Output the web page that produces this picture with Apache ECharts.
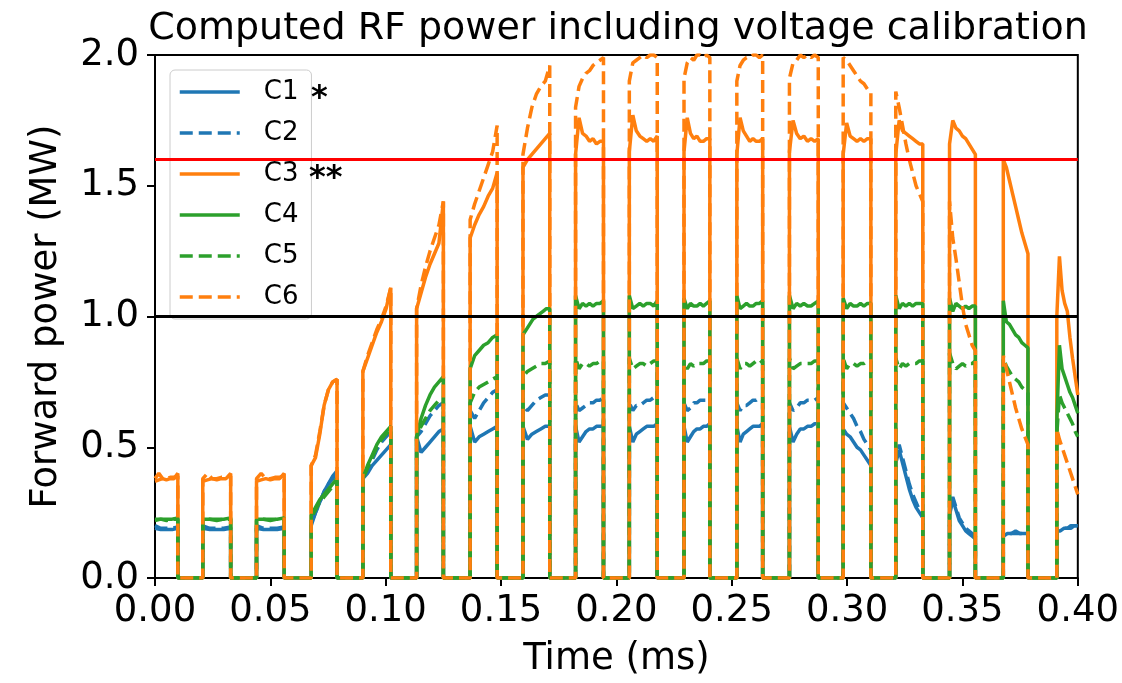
<!DOCTYPE html>
<html>
<head>
<meta charset="utf-8">
<title>Computed RF power including voltage calibration</title>
<script src="https://cdn.jsdelivr.net/npm/echarts@6/dist/echarts.min.js"></script>
<style>
  html, body { margin: 0; padding: 0; background: #fff; }
  #chart { width: 1122px; height: 683px; }
</style>
</head>
<body>
<div id="chart"></div>
<script>
// pulse edges (ms)
const pulseStart = [0, 0.0207, 0.0440, 0.0677, 0.0901, 0.1134, 0.1366, 0.1595, 0.1823,
  0.2056, 0.2293, 0.2522, 0.2750, 0.2983, 0.3211, 0.3444, 0.3677, 0.3909]
const pulseEnd = [0.0099, 0.0328, 0.0560, 0.0789, 0.1022, 0.1250, 0.1483, 0.1711, 0.1944,
  0.2177, 0.2405, 0.2634, 0.2875, 0.3103, 0.3328, 0.3556, 0.3784, 0.4000]

// power (MW) sampled across each pulse, one list per pulse
const c1Levels = [
  [0.19, 0.185, 0.185, 0.185, 0.19],
  [0.19, 0.185, 0.185, 0.185, 0.19],
  [0.19, 0.185, 0.185, 0.185, 0.19],
  [0.20, 0.25, 0.29, 0.33, 0.36, 0.39, 0.41],
  [0.38, 0.40, 0.43, 0.45, 0.47, 0.49, 0.51],
  [0.54, 0.48, 0.50, 0.52, 0.54, 0.56, 0.57],
  [0.58, 0.52, 0.54, 0.55, 0.56, 0.57, 0.58],
  [0.58, 0.53, 0.55, 0.56, 0.57, 0.58, 0.58],
  [0.58, 0.52, 0.54, 0.56, 0.57, 0.57, 0.58, 0.58, 0.58],
  [0.58, 0.52, 0.55, 0.56, 0.57, 0.58, 0.58, 0.58, 0.59],
  [0.58, 0.52, 0.54, 0.56, 0.57, 0.57, 0.58, 0.58, 0.59],
  [0.58, 0.52, 0.55, 0.56, 0.57, 0.58, 0.58, 0.58, 0.59],
  [0.58, 0.52, 0.55, 0.57, 0.57, 0.58, 0.58, 0.59, 0.59],
  [0.57, 0.55, 0.54, 0.52, 0.50, 0.49, 0.47, 0.45, 0.43],
  [0.44, 0.49, 0.44, 0.39, 0.34, 0.30, 0.27, 0.25, 0.23],
  [0.24, 0.30, 0.26, 0.22, 0.20, 0.18, 0.17, 0.16, 0.15],
  [0.16, 0.17, 0.17, 0.17, 0.17, 0.17, 0.17],
  [0.18, 0.18, 0.19, 0.19, 0.19, 0.20, 0.20]
]
const c2Levels = [
  [0.20, 0.19, 0.19, 0.19, 0.195],
  [0.20, 0.19, 0.19, 0.19, 0.195],
  [0.20, 0.19, 0.19, 0.19, 0.195],
  [0.21, 0.25, 0.29, 0.33, 0.36, 0.38, 0.40],
  [0.38, 0.41, 0.45, 0.49, 0.52, 0.54, 0.56],
  [0.54, 0.56, 0.59, 0.62, 0.64, 0.66, 0.67],
  [0.64, 0.61, 0.64, 0.67, 0.69, 0.71, 0.72],
  [0.66, 0.64, 0.66, 0.68, 0.69, 0.70, 0.70],
  [0.67, 0.64, 0.65, 0.66, 0.67, 0.67, 0.68, 0.68, 0.69],
  [0.67, 0.64, 0.66, 0.66, 0.67, 0.68, 0.68, 0.69, 0.69],
  [0.67, 0.64, 0.65, 0.67, 0.67, 0.68, 0.68, 0.68, 0.69],
  [0.67, 0.64, 0.66, 0.66, 0.67, 0.68, 0.68, 0.69, 0.69],
  [0.67, 0.64, 0.65, 0.67, 0.67, 0.68, 0.68, 0.68, 0.69],
  [0.67, 0.65, 0.63, 0.61, 0.58, 0.56, 0.53, 0.51, 0.49],
  [0.45, 0.51, 0.46, 0.41, 0.36, 0.32, 0.29, 0.26, 0.24],
  [0.25, 0.31, 0.27, 0.23, 0.21, 0.19, 0.18, 0.17, 0.16],
  [0.17, 0.17, 0.17, 0.18, 0.17, 0.17, 0.18],
  [0.18, 0.19, 0.19, 0.19, 0.20, 0.20, 0.20]
]
const c3Levels = [
  [0.37, 0.375, 0.38, 0.375, 0.38, 0.38, 0.40],
  [0.37, 0.375, 0.38, 0.375, 0.38, 0.38, 0.40],
  [0.37, 0.375, 0.38, 0.375, 0.38, 0.38, 0.40],
  [0.43, 0.46, 0.55, 0.66, 0.72, 0.75, 0.76],
  [0.79, 0.84, 0.89, 0.94, 0.98, 1.03, 1.11],
  [1.03, 1.09, 1.15, 1.20, 1.24, 1.28, 1.44],
  [1.30, 1.35, 1.39, 1.42, 1.46, 1.49, 1.55],
  [1.57, 1.60, 1.62, 1.64, 1.66, 1.68, 1.70],
  [1.62, 1.76, 1.70, 1.69, 1.67, 1.68, 1.66, 1.67, 1.67],
  [1.63, 1.77, 1.71, 1.69, 1.68, 1.67, 1.68, 1.67, 1.69],
  [1.63, 1.76, 1.70, 1.68, 1.69, 1.67, 1.67, 1.68, 1.68],
  [1.62, 1.76, 1.71, 1.69, 1.67, 1.68, 1.67, 1.67, 1.68],
  [1.63, 1.75, 1.70, 1.68, 1.69, 1.67, 1.68, 1.67, 1.68],
  [1.62, 1.74, 1.69, 1.68, 1.67, 1.68, 1.67, 1.68, 1.68],
  [1.62, 1.75, 1.71, 1.70, 1.69, 1.68, 1.67, 1.66, 1.66],
  [1.66, 1.75, 1.72, 1.71, 1.69, 1.68, 1.66, 1.64, 1.62],
  [1.60, 1.57, 1.52, 1.47, 1.42, 1.37, 1.32, 1.28, 1.24],
  [1.00, 1.23, 1.10, 1.05, 1.02, 0.92, 0.84, 0.77, 0.70]
]
const c4Levels = [
  [0.225, 0.225, 0.225, 0.225, 0.23],
  [0.225, 0.225, 0.225, 0.225, 0.23],
  [0.225, 0.225, 0.225, 0.225, 0.23],
  [0.24, 0.27, 0.30, 0.32, 0.34, 0.36, 0.38],
  [0.38, 0.43, 0.47, 0.51, 0.54, 0.56, 0.58],
  [0.54, 0.61, 0.66, 0.70, 0.73, 0.75, 0.77],
  [0.80, 0.85, 0.87, 0.89, 0.90, 0.92, 0.93],
  [0.93, 0.95, 0.97, 0.99, 1.00, 1.01, 1.02, 1.03, 1.03],
  [1.08, 1.03, 1.05, 1.04, 1.05, 1.04, 1.05, 1.05, 1.06],
  [1.08, 1.03, 1.04, 1.05, 1.04, 1.05, 1.05, 1.04, 1.06],
  [1.07, 1.03, 1.05, 1.04, 1.04, 1.05, 1.04, 1.05, 1.06],
  [1.08, 1.03, 1.04, 1.05, 1.04, 1.04, 1.05, 1.05, 1.06],
  [1.08, 1.03, 1.05, 1.04, 1.05, 1.04, 1.04, 1.05, 1.06],
  [1.07, 1.03, 1.05, 1.04, 1.04, 1.05, 1.04, 1.05, 1.05],
  [1.08, 1.03, 1.05, 1.04, 1.05, 1.04, 1.05, 1.05, 1.05],
  [1.07, 1.02, 1.05, 1.04, 1.03, 1.04, 1.03, 1.04, 1.04],
  [1.06, 0.98, 0.97, 0.95, 0.93, 0.92, 0.90, 0.89, 0.88],
  [0.60, 0.89, 0.80, 0.77, 0.74, 0.71, 0.69, 0.66, 0.63]
]
const c5Levels = [
  [0.22, 0.225, 0.22, 0.225, 0.225],
  [0.22, 0.225, 0.22, 0.225, 0.225],
  [0.22, 0.225, 0.22, 0.225, 0.225],
  [0.23, 0.26, 0.29, 0.31, 0.33, 0.35, 0.37],
  [0.38, 0.42, 0.46, 0.50, 0.53, 0.55, 0.57],
  [0.54, 0.58, 0.61, 0.64, 0.66, 0.68, 0.69],
  [0.67, 0.71, 0.73, 0.74, 0.75, 0.76, 0.77],
  [0.77, 0.79, 0.80, 0.81, 0.82, 0.82, 0.83],
  [0.84, 0.80, 0.82, 0.82, 0.81, 0.82, 0.82, 0.83, 0.83],
  [0.84, 0.80, 0.81, 0.82, 0.82, 0.81, 0.82, 0.83, 0.83],
  [0.83, 0.80, 0.82, 0.81, 0.82, 0.82, 0.82, 0.83, 0.83],
  [0.84, 0.80, 0.82, 0.82, 0.81, 0.82, 0.83, 0.82, 0.83],
  [0.84, 0.80, 0.81, 0.82, 0.82, 0.82, 0.82, 0.83, 0.83],
  [0.84, 0.80, 0.82, 0.82, 0.81, 0.82, 0.82, 0.83, 0.83],
  [0.84, 0.80, 0.82, 0.81, 0.82, 0.82, 0.82, 0.83, 0.83],
  [0.86, 0.82, 0.80, 0.81, 0.82, 0.81, 0.82, 0.82, 0.83],
  [0.84, 0.81, 0.79, 0.77, 0.76, 0.75, 0.73, 0.72, 0.71],
  [0.55, 0.70, 0.67, 0.65, 0.63, 0.61, 0.59, 0.56, 0.54]
]
const c6Levels = [
  [0.38, 0.40, 0.38, 0.38, 0.385, 0.385, 0.39],
  [0.38, 0.40, 0.38, 0.38, 0.385, 0.385, 0.39],
  [0.38, 0.40, 0.38, 0.38, 0.385, 0.385, 0.39],
  [0.43, 0.47, 0.56, 0.66, 0.72, 0.75, 0.76],
  [0.79, 0.85, 0.90, 0.95, 0.99, 1.04, 1.11],
  [1.03, 1.12, 1.19, 1.25, 1.30, 1.35, 1.44],
  [1.37, 1.43, 1.48, 1.53, 1.58, 1.63, 1.73],
  [1.62, 1.72, 1.80, 1.85, 1.88, 1.90, 1.96],
  [1.80, 1.88, 1.91, 1.93, 1.94, 1.96, 1.97, 1.98, 1.99],
  [1.90, 1.97, 1.98, 1.99, 2.00, 1.99, 2.00, 2.00, 1.99],
  [1.91, 1.97, 1.99, 1.98, 2.00, 2.00, 1.99, 2.00, 1.99],
  [1.90, 1.96, 1.98, 1.99, 1.99, 2.00, 2.00, 1.99, 2.00],
  [1.91, 1.97, 1.98, 2.00, 1.99, 2.00, 1.99, 2.00, 1.99],
  [1.99, 1.98, 1.96, 1.94, 1.92, 1.90, 1.89, 1.87, 1.86],
  [1.86, 1.80, 1.73, 1.66, 1.60, 1.55, 1.50, 1.47, 1.44],
  [1.44, 1.30, 1.22, 1.13, 1.04, 0.97, 0.93, 0.89, 0.87],
  [0.85, 0.80, 0.75, 0.70, 0.65, 0.61, 0.57, 0.54, 0.51],
  [0.57, 0.53, 0.50, 0.47, 0.44, 0.41, 0.38, 0.35, 0.32]
]

const seriesNames = ['C1', 'C2', 'C3', 'C4', 'C5', 'C6']
const limitLines = [1.6, 1.0]

const FONT = 'DejaVu Sans'
const BLUE = '#1f77b4'
const ORANGE = '#ff7f0e'
const GREEN = '#2ca02c'
const DASH = [13, 6]

// turn the per-pulse samples into a step trace with zero between pulses
function buildTrace(levels) {
  const pts = []
  levels.forEach((vals, i) => {
    const t0 = pulseStart[i]
    const t1 = pulseEnd[i]
    if (t0 > 0) pts.push([t0, 0])
    vals.forEach((v, k) => {
      pts.push([t0 + (t1 - t0) * k / (vals.length - 1), v])
    })
    if (t1 < 0.4) pts.push([t1, 0])
  })
  return pts
}

function lineSeries(name, levels, color, dashed) {
  return {
    name: name,
    type: 'line',
    data: buildTrace(levels),
    showSymbol: false,
    symbol: 'none',
    animation: false,
    emphasis: { disabled: true },
    lineStyle: { color: color, width: 3.5, type: dashed ? DASH : 'solid' },
    itemStyle: { color: color }
  }
}

const series = [
  lineSeries('C1', c1Levels, BLUE, false),
  lineSeries('C2', c2Levels, BLUE, true),
  lineSeries('C3', c3Levels, ORANGE, false),
  lineSeries('C4', c4Levels, GREEN, false),
  lineSeries('C5', c5Levels, GREEN, true),
  lineSeries('C6', c6Levels, ORANGE, true)
]
series[5].markLine = {
  silent: true,
  symbol: 'none',
  animation: false,
  label: { show: false },
  data: [
    { yAxis: limitLines[0], lineStyle: { color: '#ff0000', width: 3, type: 'solid' } },
    { yAxis: limitLines[1], lineStyle: { color: '#000000', width: 3, type: 'solid' } }
  ]
}

const chart = echarts.init(document.getElementById('chart'), null, { renderer: 'canvas' })
chart.setOption({
  backgroundColor: '#ffffff',
  animation: false,
  grid: {
    left: 155, right: 39, top: 55, bottom: 102,
    show: true, borderColor: '#000', borderWidth: 2, backgroundColor: 'transparent'
  },
  legend: {
    data: seriesNames,
    orient: 'vertical',
    left: 170,
    top: 70,
    itemWidth: 60,
    itemHeight: 25,
    itemGap: 15,
    padding: [9, 13, 9, 8],
    backgroundColor: 'rgba(255,255,255,0.8)',
    borderColor: '#cccccc',
    borderWidth: 1,
    borderRadius: 5,
    selectedMode: false,
    itemStyle: { opacity: 0 },
    lineStyle: { width: 3.5 },
    textStyle: { fontFamily: FONT, fontSize: 26, color: '#000', lineHeight: 25, padding: [0, 0, 0, 19] }
  },
  xAxis: {
    type: 'value',
    min: 0,
    max: 0.4,
    interval: 0.05,
    name: 'Time (ms)',
    nameLocation: 'middle',
    nameGap: 63,
    nameTextStyle: { fontFamily: FONT, fontSize: 37, color: '#000' },
    axisLine: { show: true, onZero: false, lineStyle: { color: '#000', width: 2 } },
    axisTick: { show: true, length: 8, lineStyle: { color: '#000', width: 2 } },
    axisLabel: {
      fontFamily: FONT, fontSize: 37, color: '#000', margin: 15,
      formatter: v => v.toFixed(2)
    },
    splitLine: { show: false }
  },
  yAxis: {
    type: 'value',
    min: 0,
    max: 2,
    interval: 0.5,
    name: 'Forward power (MW)',
    nameLocation: 'middle',
    nameGap: 90,
    nameTextStyle: { fontFamily: FONT, fontSize: 37, color: '#000' },
    axisLine: { show: true, onZero: false, lineStyle: { color: '#000', width: 2 } },
    axisTick: { show: true, length: 8, lineStyle: { color: '#000', width: 2 } },
    axisLabel: {
      fontFamily: FONT, fontSize: 37, color: '#000', margin: 16,
      formatter: v => v.toFixed(1)
    },
    splitLine: { show: false }
  },
  graphic: [
    {
      type: 'text', x: 618, y: 29, z: 10,
      style: {
        text: 'Computed RF power including voltage calibration',
        fontFamily: FONT, fontSize: 38, fill: '#000',
        align: 'center', textAlign: 'center', verticalAlign: 'middle', textVerticalAlign: 'middle'
      }
    },
    {
      type: 'text', x: 311, y: 99, z: 10,
      style: {
        text: '*', fontFamily: FONT, fontSize: 32, fontWeight: 'bold', fill: '#000',
        align: 'left', textAlign: 'left', verticalAlign: 'middle', textVerticalAlign: 'middle'
      }
    },
    {
      type: 'text', x: 309, y: 179, z: 10,
      style: {
        text: '**', fontFamily: FONT, fontSize: 32, fontWeight: 'bold', fill: '#000',
        align: 'left', textAlign: 'left', verticalAlign: 'middle', textVerticalAlign: 'middle'
      }
    }
  ],
  series: series
})
</script>
</body>
</html>
